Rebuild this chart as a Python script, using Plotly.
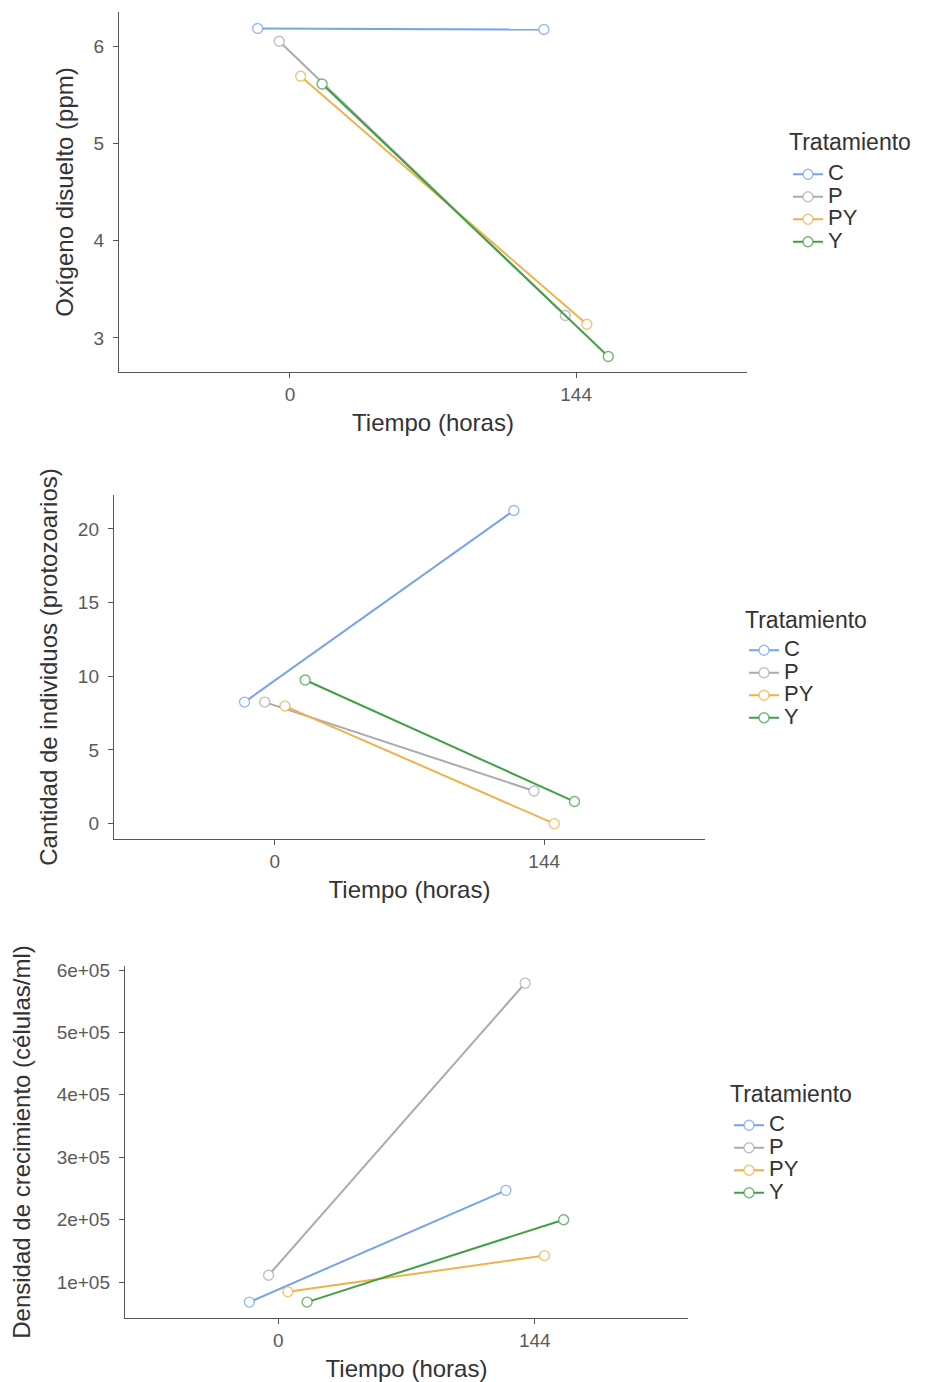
import plotly.graph_objects as go

# ---- data ----
tratamientos = ["C", "P", "PY", "Y"]
tiempos = [0, 144]
x_tick_labels = ["0", "144"]

oxigeno = {
    "C": [6.18, 6.17],
    "P": [6.05, 3.23],
    "PY": [5.69, 3.14],
    "Y": [5.61, 2.81],
}
protozoarios = {
    "C": [8.25, 21.25],
    "P": [8.25, 2.22],
    "PY": [7.98, 0.0],
    "Y": [9.75, 1.50],
}
densidad = {
    "C": [68000, 247000],
    "P": [111000, 579000],
    "PY": [84500, 142500],
    "Y": [68000, 200000],
}

y1_ticks = [3, 4, 5, 6]
y2_ticks = [0, 5, 10, 15, 20]
y3_ticks = [100000, 200000, 300000, 400000, 500000, 600000]
y3_labels = ["1e+05", "2e+05", "3e+05", "4e+05", "5e+05", "6e+05"]

x_title = "Tiempo (horas)"
y_titles = ["Oxígeno disuelto (ppm)",
            "Cantidad de individuos (protozoarios)",
            "Densidad de crecimiento (células/ml)"]
legend_title = "Tratamiento"

# ---- style ----
colors = {"C": "#76a3ec", "P": "#ababab", "PY": "#efb24a", "Y": "#41a047"}
marker_line = {"C": "rgba(118,163,236,0.75)", "P": "rgba(171,171,171,0.75)",
               "PY": "rgba(239,178,74,0.75)", "Y": "rgba(65,160,71,0.75)"}
dodge_step = 10.8
FONT = "Liberation Sans, Arial, sans-serif"
W, H = 933, 1382

def px_x(a, b):
    return [a / W, b / W]

def px_y(top, bottom):
    return [1 - bottom / H, 1 - top / H]

panels = [
    dict(data=oxigeno, xd=px_x(119, 747), yd=px_y(12, 372), yr=[2.65, 6.35],
         tv=y1_ticks, tt=[str(v) for v in y1_ticks], ystand=13,
         leg=(788, 158), ltitle=(787, 142)),
    dict(data=protozoarios, xd=px_x(114, 705), yd=px_y(495, 839), yr=[-1.04, 22.3],
         tv=y2_ticks, tt=[str(v) for v in y2_ticks], ystand=13,
         leg=(744, 634), ltitle=(743, 620)),
    dict(data=densidad, xd=px_x(125, 688), yd=px_y(966, 1318), yr=[42500, 606400],
         tv=y3_ticks, tt=y3_labels, ystand=19,
         leg=(729, 1109), ltitle=(728, 1094)),
]

fig = go.Figure()
layout = dict(width=W, height=H, margin=dict(l=0, r=0, t=0, b=0, autoexpand=False),
              paper_bgcolor="white", plot_bgcolor="white",
              font=dict(family=FONT, color="#4d4d4d"))
annotations = []

for p_i, p in enumerate(panels):
    n = p_i + 1
    xa = "x" if n == 1 else f"x{n}"
    ya = "y" if n == 1 else f"y{n}"
    leg = "legend" if n == 1 else f"legend{n}"
    for i, t in enumerate(tratamientos):
        off = (i - 1.5) * dodge_step
        fig.add_trace(go.Scatter(
            x=[v + off for v in tiempos], y=p["data"][t],
            mode="lines+markers",
            name=f"<span style='font-size:22px'>{t}</span>",
            xaxis=xa, yaxis=ya, legend=leg,
            line=dict(color=colors[t], width=2),
            marker=dict(symbol="circle", size=10, color="white",
                        line=dict(color=marker_line[t], width=1.4)),
        ))
    axis_common = dict(showgrid=False, zeroline=False, showline=True,
                       linecolor="#555555", linewidth=1.4, ticks="outside",
                       ticklen=5, tickwidth=1.2, tickcolor="#555555",
                       tickfont=dict(size=19, color="#5a5a5a", family=FONT))
    layout["xaxis" if n == 1 else f"xaxis{n}"] = dict(
        domain=p["xd"], range=[-86, 230], tickvals=tiempos, ticktext=x_tick_labels,
        anchor=ya, title=dict(text=x_title, font=dict(size=24, color="#333333"), standoff=10),
        **axis_common)
    layout["yaxis" if n == 1 else f"yaxis{n}"] = dict(
        domain=p["yd"], range=p["yr"], tickvals=p["tv"], ticktext=p["tt"],
        anchor=xa, ticklabelstandoff=5,
        title=dict(text=y_titles[p_i], font=dict(size=24, color="#333333"),
                   standoff=p["ystand"]),
        **axis_common)
    lx, ly = p["leg"]
    layout[leg] = dict(x=lx / W, y=1 - ly / H, xanchor="left", yanchor="top",
                       bgcolor="rgba(0,0,0,0)",
                       font=dict(size=15, color="#333333", family=FONT),
                       tracegroupgap=0, itemwidth=30)
    tx, ty = p["ltitle"]
    annotations.append(dict(text=legend_title, x=tx / W, y=1 - ty / H,
                            xref="paper", yref="paper", xanchor="left", yanchor="middle",
                            showarrow=False,
                            font=dict(size=23, color="#333333", family=FONT)))

layout["annotations"] = annotations
fig.update_layout(**layout)
fig.write_html("out.html")
